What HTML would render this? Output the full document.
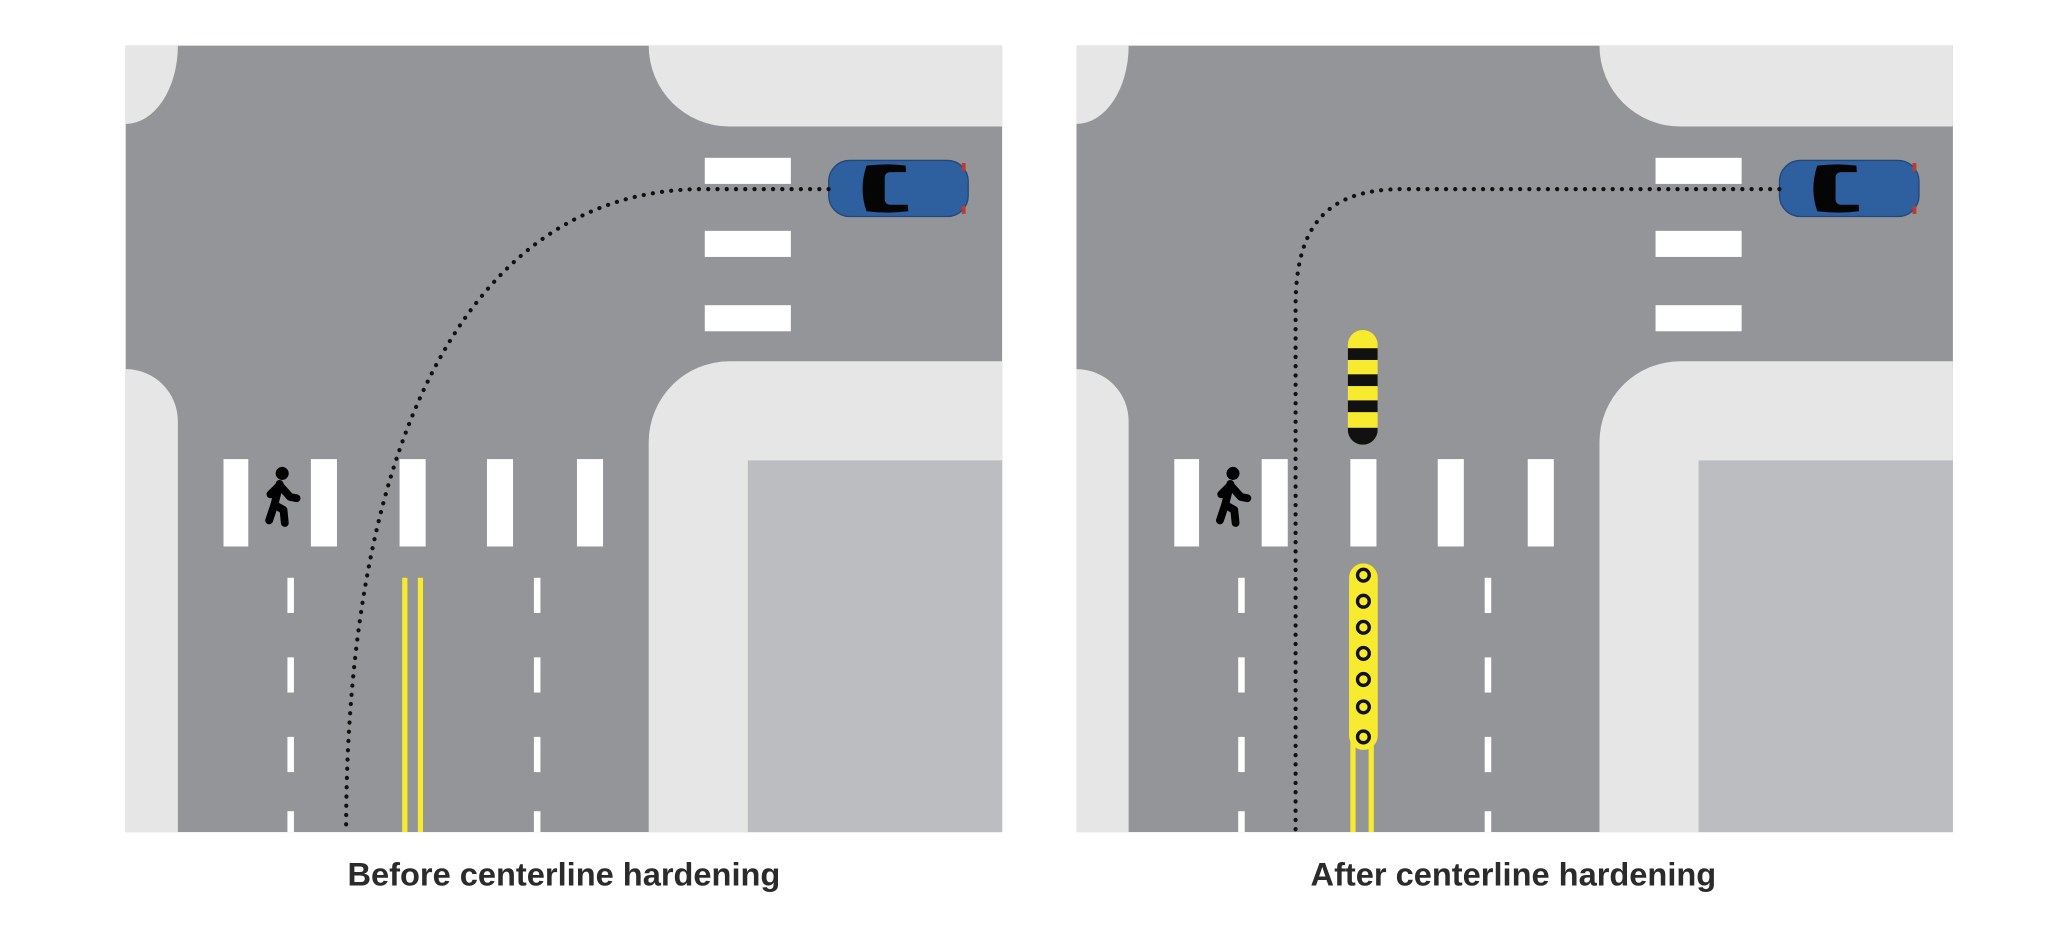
<!DOCTYPE html>
<html><head><meta charset="utf-8"><style>
html,body{margin:0;padding:0;background:#fff;}
svg{display:block;}
text{font-family:"Liberation Sans",Arial,sans-serif;font-weight:bold;fill:#2b2b2b;}
</style></head><body>
<svg width="2046" height="926" viewBox="0 0 1568 710" xmlns="http://www.w3.org/2000/svg">
<defs>
<g id="base">
  <rect x="0" y="0" width="672" height="603" fill="#939598"/>
  <path d="M0 0 H40 A40 60 0 0 1 0 60 Z" fill="#e6e6e6"/>
  <path d="M0 248 A40 40 0 0 1 40 288 V603 H0 Z" fill="#e6e6e6"/>
  <path d="M401 0 H672 V62 H463 A62 62 0 0 1 401 0 Z" fill="#e6e6e6"/>
  <path d="M401 603 V304 A62 62 0 0 1 463 242 H672 V603 Z" fill="#e6e6e6"/>
  <rect x="477" y="318" width="195" height="285" fill="#bcbdc0"/>
  <rect x="444" y="86" width="66" height="20" fill="#fff"/>
  <rect x="444" y="142" width="66" height="20" fill="#fff"/>
  <rect x="444" y="199" width="66" height="20" fill="#fff"/>
  <rect x="75" y="317" width="19" height="67" fill="#fff"/>
  <rect x="142" y="317" width="20" height="67" fill="#fff"/>
  <rect x="210" y="317" width="20" height="67" fill="#fff"/>
  <rect x="277" y="317" width="20" height="67" fill="#fff"/>
  <rect x="346" y="317" width="20" height="67" fill="#fff"/>
  <g fill="#fff">
    <rect x="124" y="408" width="5" height="27"/><rect x="124" y="469" width="5" height="27"/><rect x="124" y="530" width="5" height="27"/><rect x="124" y="587" width="5" height="16"/>
    <rect x="313" y="408" width="5" height="27"/><rect x="313" y="469" width="5" height="27"/><rect x="313" y="530" width="5" height="27"/><rect x="313" y="587" width="5" height="16"/>
  </g>
  <g fill="#000" stroke="#000" stroke-linecap="round" stroke-linejoin="round">
    <circle cx="120" cy="328" r="5" stroke="none"/>
    <path d="M118 336 L114 352 L110 364 M114 352 L121 356 L122 366 M118 337 L126 346 L131 347 M117 338 L111 344" stroke-width="6" fill="none"/>
  </g>
  <g>
    <rect x="539" y="88" width="107" height="43" rx="16" fill="#2e5f9e" stroke="#24477a" stroke-width="1"/>
    <path d="M568 92 Q584 90 598 92 L600 127 Q584 129 568 127 Q562 110 568 92 Z" fill="#050505"/>
    <rect x="582" y="97" width="22" height="25" rx="4" fill="#2e5f9e"/>
    <rect x="641" y="90" width="3" height="6" fill="#c0392b"/>
    <rect x="641" y="123" width="3" height="6" fill="#c0392b"/>
  </g>
</g>
</defs>

<g transform="translate(96,35)">
  <use href="#base"/>
  <rect x="212" y="408" width="4" height="195" fill="#f7ea2f"/>
  <rect x="224" y="408" width="4" height="195" fill="#f7ea2f"/>
  <path d="M539 110 L440 110 C 270 112 169 290 169 603" fill="none" stroke="#111" stroke-width="3.2" stroke-dasharray="0.1 7" stroke-linecap="round"/>
</g>

<g transform="translate(825,35)">
  <use href="#base"/>
  <rect x="210" y="530" width="4" height="73" fill="#f7ea2f"/>
  <rect x="224" y="530" width="4" height="73" fill="#f7ea2f"/>
  <rect x="209" y="397" width="22" height="143" rx="11" fill="#f7ea2f"/>
  <g fill="none" stroke="#111" stroke-width="2.6">
    <circle cx="220" cy="406" r="4.5"/><circle cx="220" cy="426" r="4.5"/><circle cx="220" cy="446" r="4.5"/><circle cx="220" cy="466" r="4.5"/><circle cx="220" cy="486" r="4.5"/><circle cx="220" cy="507" r="4.5"/><circle cx="220" cy="530" r="4.5"/>
  </g>
  <clipPath id="pill"><rect x="208" y="218" width="23" height="88" rx="11.5"/></clipPath>
  <g clip-path="url(#pill)">
    <rect x="208" y="218" width="23" height="88" fill="#f7ea2f"/>
    <rect x="208" y="232" width="23" height="9" fill="#111"/>
    <rect x="208" y="252" width="23" height="9" fill="#111"/>
    <rect x="208" y="272" width="23" height="9" fill="#111"/>
    <rect x="208" y="293" width="23" height="13" fill="#111"/>
  </g>
  <path d="M539 110 L250 110 C 190 110 168 140 168 200 L168 603" fill="none" stroke="#111" stroke-width="3.2" stroke-dasharray="0.1 7" stroke-linecap="round"/>
</g>

<text x="432" y="679" font-size="25" text-anchor="middle">Before centerline hardening</text>
<text x="1160" y="679" font-size="25" text-anchor="middle">After centerline hardening</text>
</svg>
</body></html>
